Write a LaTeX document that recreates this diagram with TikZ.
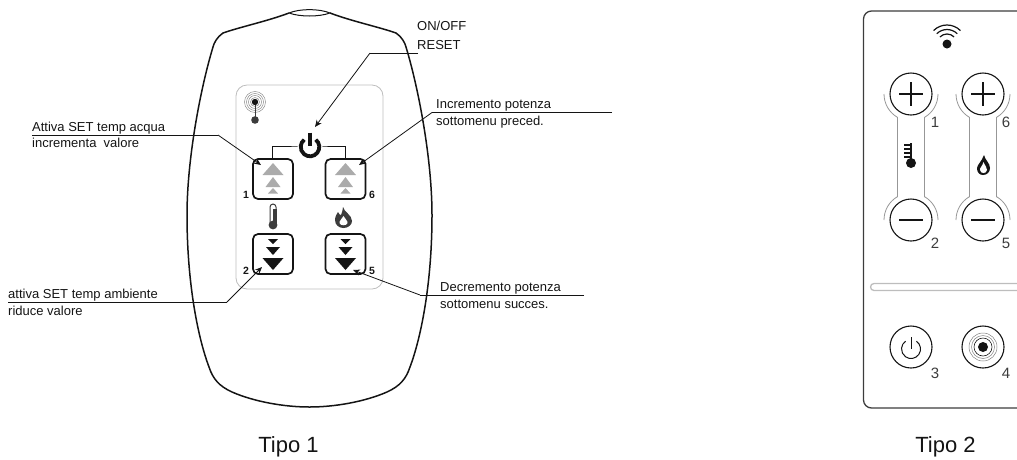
\documentclass[tikz,border=0pt]{standalone}
\usepackage{fontspec}
\setmainfont{Liberation Sans}
\usetikzlibrary{arrows.meta}
\definecolor{inkdark}{HTML}{141414}
\definecolor{arrowgray}{HTML}{ABABAB}
\definecolor{panelgray}{HTML}{BDBDBD}
\definecolor{edgegray}{HTML}{3C3C3C}
\begin{document}
\begin{tikzpicture}[
    x=1pt, y=-1pt,
    shell/.style={draw=inkdark, line width=1.5pt},
    padkey/.style={draw=inkdark, line width=1.7pt, rounded corners=5pt, minimum size=40pt, inner sep=0pt},
    padnum/.style={font=\fontsize{10.5}{10.5}\selectfont\bfseries, text=inkdark, inner sep=0pt},
    leader/.style={draw=inkdark, line width=0.8pt, -{Stealth[length=7pt,width=6pt]}},
    rule/.style={draw=inkdark, line width=0.8pt},
    caption/.style={font=\fontsize{13}{13}\selectfont, text=inkdark, anchor=base west, inner sep=0pt},
    tipo/.style={font=\fontsize{22}{22}\selectfont, text=inkdark, anchor=base, inner sep=0pt},
    softkey/.style={circle, draw=inkdark, line width=1.1pt, minimum size=42pt, inner sep=0pt},
    softnum/.style={font=\fontsize{15}{15}\selectfont, text=edgegray, inner sep=0pt},
    halo/.style={draw=panelgray!80!black, line width=0.8pt}
]
\useasboundingbox (0,0) rectangle (1017,459);

% Remote outline
\draw[shell] (289,13) .. controls (268,21) and (240,27) .. (223,33)
    .. controls (217,37) and (214,43) .. (213,47)
    .. controls (200,90) and (187,160) .. (187,215)
    .. controls (187,280) and (197,335) .. (209,367)
    .. controls (213,379) and (219,386) .. (232,392)
    .. controls (255,402) and (285,407) .. (309.5,407)
    .. controls (334,407) and (364,402) .. (387,392)
    .. controls (400,386) and (406,379) .. (410,367)
    .. controls (422,335) and (432,280) .. (432,215)
    .. controls (432,160) and (419,90) .. (406,47)
    .. controls (405,43) and (402,37) .. (396,33)
    .. controls (379,27) and (351,21) .. (330,13);
\draw[shell, line width=1pt] (289,13) .. controls (300,8.5) and (319,8.5) .. (330,13)
    .. controls (319,17) and (300,17) .. (289,13);

% Front panel
\draw[panelgray, line width=0.8pt, rounded corners=11pt] (236,85) rectangle (383,289);

% Signal mark
\foreach \r in {4.5,6.5,8.5,10.5} {
    \draw[gray, line width=0.45pt] (255,102) circle (\r);
}
\draw[edgegray, line width=1pt] (255,102) -- (255,119);
\fill[inkdark] (255,102) circle (3.2);
\fill[edgegray] (255,120) circle (3.8);

% Keys
\node[padkey] (keyone) at (273,179) {};
\node[padkey] (keysix) at (345.5,179) {};
\node[padkey] (keytwo) at (273,254) {};
\node[padkey] (keyfive) at (345.5,254) {};
\node[padnum] (numone) at (246,195) {1};
\node[padnum] (numsix) at (372,195) {6};
\node[padnum] (numtwo) at (246,270.5) {2};
\node[padnum] (numfive) at (372,270.5) {5};

% Up and down triangles
\foreach \k in {273,345.5} {
    \fill[arrowgray] (\k-10.5,175) -- (\k,163) -- (\k+10.5,175) -- cycle;
    \fill[arrowgray] (\k-7.5,187) -- (\k,177) -- (\k+7.5,187) -- cycle;
    \fill[arrowgray] (\k-5,193.5) -- (\k,188) -- (\k+5,193.5) -- cycle;
    \fill[inkdark] (\k-5,239) -- (\k,244) -- (\k+5,239) -- cycle;
    \fill[inkdark] (\k-7,247) -- (\k,255) -- (\k+7,247) -- cycle;
    \fill[inkdark] (\k-10.5,258) -- (\k,270) -- (\k+10.5,258) -- cycle;
}

% Power mark
\coordinate (powermark) at (310,147);
\draw[inkdark, line width=0.8pt] (272.5,158) -- (272.5,146) -- (310,146) -- (345,146) -- (345,158);
\fill[white] (powermark) circle (12.5);
\draw[inkdark, line width=3.8pt] (powermark) ++(-52:9.3) arc (-52:232:9.3);
\draw[inkdark, line width=3.8pt] (310,132.5) -- (310,146);

% Thermometer and flame
\draw[edgegray, line width=1pt, fill=white] (270,223) -- (270,207) arc (180:360:3) -- (276,223);
\fill[edgegray] (273,209) rectangle (276.5,224);
\fill[edgegray] (273,225) circle (4.4);
\fill[edgegray] (343,207) .. controls (344,212) and (352,215) .. (352,221)
    .. controls (352,225) and (348,228) .. (343.5,228)
    .. controls (339,228) and (335,225) .. (335,220)
    .. controls (335,216) and (337,214) .. (338,212)
    .. controls (339,214) and (340,215) .. (341,215)
    .. controls (342,212) and (343,210) .. (343,207) -- cycle;
\fill[white] (343.5,216) .. controls (345,219) and (348,221) .. (347.5,223)
    .. controls (347,226) and (340,226) .. (339.5,223)
    .. controls (339,221) and (342,219) .. (343.5,216) -- cycle;

% Callouts
\node[caption] (onoff) at (417,30) {ON/OFF};
\node[caption] (reset) at (417,49) {RESET};
\coordinate (resetend) at (418,53);
\coordinate (resetbend) at (370,53);
\coordinate (powertip) at (315,127);
\draw[rule] (resetend) -- (resetbend);
\draw[leader] (resetbend) -- (powertip);

\node[caption] (acqua) at (32,131) {Attiva SET temp acqua};
\node[caption] (valore) at (32,147) {incrementa\ \ valore};
\coordinate (acquaend) at (32,135);
\coordinate (acquabend) at (218,135);
\coordinate (onetip) at (261,165);
\draw[rule] (acquaend) -- (acquabend);
\draw[leader] (acquabend) -- (onetip);

\node[caption] (potenza) at (436,108.5) {Incremento potenza};
\node[caption] (preced) at (436,125) {sottomenu preced.};
\coordinate (potenzaend) at (612,112.5);
\coordinate (potenzabend) at (432,112.5);
\coordinate (sixtip) at (359,165);
\draw[rule] (potenzaend) -- (potenzabend);
\draw[leader] (potenzabend) -- (sixtip);

\node[caption] (ambiente) at (8,298) {attiva SET temp ambiente};
\node[caption] (riduce) at (8,315) {riduce valore};
\coordinate (ambienteend) at (8,302);
\coordinate (ambientebend) at (227,302);
\coordinate (twotip) at (262,267);
\draw[rule] (ambienteend) -- (ambientebend);
\draw[leader] (ambientebend) -- (twotip);

\node[caption] (decremento) at (440,291) {Decremento potenza};
\node[caption] (succes) at (440,308) {sottomenu succes.};
\coordinate (decrementoend) at (584,295);
\coordinate (decrementobend) at (420,295);
\coordinate (fivetip) at (353,270);
\draw[rule] (decrementoend) -- (decrementobend);
\draw[leader] (decrementobend) -- (fivetip);

% Second remote, cut at the right edge
\draw[edgegray, line width=1.3pt, rounded corners=8pt] (1020,11) -- (863.5,11) -- (863.5,408) -- (1020,408);

% Wifi mark
\fill[inkdark] (947,44) circle (4.5);
\foreach \r in {10,14.5,19} {
    \draw[inkdark, line width=1.2pt] (947,44) ++(-135:\r) arc (-135:-45:\r);
}

% Soft keys
\foreach \k/\n in {911/a,983/b} {
    \draw[halo] (\k,94) ++(180:27) arc (180:120:27) -- (\k-13.5,197);
    \draw[halo] (\k,94) ++(0:27) arc (0:60:27) -- (\k+13.5,197);
    \draw[halo] (\k-27,220) arc (180:240:27);
    \draw[halo] (\k+27,220) arc (0:-60:27);
    \node[softkey] (plus\n) at (\k,94) {};
    \node[softkey] (minus\n) at (\k,220) {};
    \draw[inkdark, line width=2.1pt] (\k-12,94) -- (\k+12,94);
    \draw[inkdark, line width=2.1pt] (\k,82) -- (\k,106);
    \draw[inkdark, line width=2.1pt] (\k-12,220) -- (\k+12,220);
}
\node[softnum] (softone) at (935,122) {1};
\node[softnum] (softsix) at (1006,122) {6};
\node[softnum] (softtwo) at (935,243) {2};
\node[softnum] (softfive) at (1006,243) {5};

% Soft key icons
\draw[inkdark, line width=2pt] (911,143) -- (911,162);
\fill[inkdark] (911,163) circle (5);
\foreach \y in {145,149,153,157} {
    \draw[inkdark, line width=1.1pt] (904,\y) -- (910,\y);
}
\fill[inkdark] (984,155) .. controls (985,160) and (990,163) .. (990,168)
    .. controls (990,172) and (987,175) .. (983,175)
    .. controls (979,175) and (977,172) .. (977,168)
    .. controls (977,165) and (982,161) .. (984,155) -- cycle;
\fill[white] (983.5,162) .. controls (985,166) and (987.5,168) .. (987,170)
    .. controls (986.5,174) and (980.5,174) .. (980,170)
    .. controls (979.5,168) and (982.5,166) .. (983.5,162) -- cycle;

% Groove
\draw[panelgray, line width=1.3pt, fill=white, rounded corners=3.5pt] (1022,283.5) -- (870.5,283.5) -- (870.5,290.5) -- (1022,290.5);

% Bottom keys
\node[softkey] (powerkey) at (911,347) {};
\node[softkey] (targetkey) at (983,347) {};
\node[softnum] (softthree) at (935,373) {3};
\node[softnum] (softfour) at (1006,373) {4};
\draw[inkdark, line width=1pt] (911,349) ++(-55:9.5) arc (-55:235:9.5);
\draw[inkdark, line width=1pt] (911,337) -- (911,349);
\draw[gray, line width=0.5pt] (983,347) circle (14);
\draw[gray, line width=0.5pt] (983,347) circle (11.5);
\draw[inkdark, line width=0.6pt] (983,347) circle (9);
\fill[inkdark] (983,347) circle (5);

% Captions
\node[tipo] (tipoone) at (288.5,452.5) {Tipo 1};
\node[tipo] (tipotwo) at (945.5,452.5) {Tipo 2};
\end{tikzpicture}
\end{document}
